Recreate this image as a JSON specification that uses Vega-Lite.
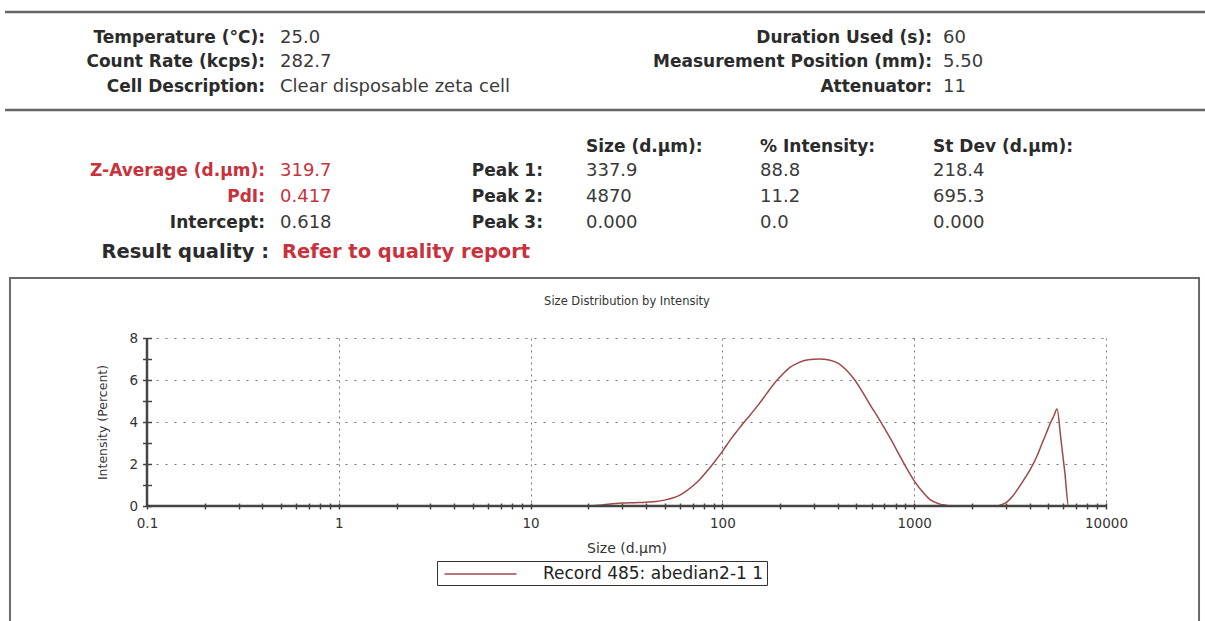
{
  "$schema": "https://vega.github.io/schema/vega-lite/v6.json",
  "width": 959,
  "height": 168,
  "autosize": {"type": "none"},
  "padding": {"left": 147, "top": 338, "right": 99, "bottom": 115},
  "background": "white",
  "config": {"view": {"stroke": null}, "font": "DejaVu Sans"},
  "datasets": {
    "curve": [
      {"size": 0.1, "intensity": 0}, {"size": 1, "intensity": 0}, {"size": 10, "intensity": 0},
      {"size": 20, "intensity": 0}, {"size": 23, "intensity": 0.04}, {"size": 26, "intensity": 0.1},
      {"size": 30, "intensity": 0.14}, {"size": 35, "intensity": 0.16}, {"size": 40, "intensity": 0.18},
      {"size": 45, "intensity": 0.21}, {"size": 50, "intensity": 0.28}, {"size": 55, "intensity": 0.38},
      {"size": 60, "intensity": 0.52}, {"size": 65, "intensity": 0.72}, {"size": 70, "intensity": 0.95},
      {"size": 76, "intensity": 1.25}, {"size": 83, "intensity": 1.65}, {"size": 90, "intensity": 2.05},
      {"size": 100, "intensity": 2.6}, {"size": 110, "intensity": 3.15}, {"size": 120, "intensity": 3.6},
      {"size": 130, "intensity": 4.0}, {"size": 140, "intensity": 4.35}, {"size": 155, "intensity": 4.85},
      {"size": 170, "intensity": 5.35}, {"size": 185, "intensity": 5.8}, {"size": 200, "intensity": 6.15},
      {"size": 225, "intensity": 6.6}, {"size": 250, "intensity": 6.83}, {"size": 280, "intensity": 6.96},
      {"size": 320, "intensity": 7.0}, {"size": 360, "intensity": 6.95}, {"size": 400, "intensity": 6.8},
      {"size": 440, "intensity": 6.5}, {"size": 490, "intensity": 6.0}, {"size": 540, "intensity": 5.4},
      {"size": 600, "intensity": 4.7}, {"size": 650, "intensity": 4.2}, {"size": 710, "intensity": 3.6},
      {"size": 780, "intensity": 2.95}, {"size": 840, "intensity": 2.4}, {"size": 900, "intensity": 1.9},
      {"size": 1000, "intensity": 1.2}, {"size": 1100, "intensity": 0.7}, {"size": 1210, "intensity": 0.3},
      {"size": 1350, "intensity": 0.1}, {"size": 1480, "intensity": 0.03}, {"size": 1650, "intensity": 0},
      {"size": 2700, "intensity": 0}, {"size": 2850, "intensity": 0.06}, {"size": 3050, "intensity": 0.2},
      {"size": 3250, "intensity": 0.45}, {"size": 3450, "intensity": 0.78}, {"size": 3700, "intensity": 1.2},
      {"size": 4000, "intensity": 1.7}, {"size": 4200, "intensity": 2.05}, {"size": 4400, "intensity": 2.45},
      {"size": 4650, "intensity": 3.0}, {"size": 4900, "intensity": 3.5}, {"size": 5130, "intensity": 3.95},
      {"size": 5350, "intensity": 4.3}, {"size": 5560, "intensity": 4.62}, {"size": 5800, "intensity": 3.3},
      {"size": 6100, "intensity": 1.6}, {"size": 6380, "intensity": 0}, {"size": 10000, "intensity": 0}
    ],
    "header": [
      {"text": "Temperature (°C):", "column": 1, "line": 1, "kind": "key", "flag": false},
      {"text": "25.0", "column": 2, "line": 1, "kind": "value", "flag": false},
      {"text": "Duration Used (s):", "column": 7, "line": 1, "kind": "key", "flag": false},
      {"text": "60", "column": 8, "line": 1, "kind": "value", "flag": false},
      {"text": "Count Rate (kcps):", "column": 1, "line": 2, "kind": "key", "flag": false},
      {"text": "282.7", "column": 2, "line": 2, "kind": "value", "flag": false},
      {"text": "Measurement Position (mm):", "column": 7, "line": 2, "kind": "key", "flag": false},
      {"text": "5.50", "column": 8, "line": 2, "kind": "value", "flag": false},
      {"text": "Cell Description:", "column": 1, "line": 3, "kind": "key", "flag": false},
      {"text": "Clear disposable zeta cell", "column": 2, "line": 3, "kind": "value", "flag": false},
      {"text": "Attenuator:", "column": 7, "line": 3, "kind": "key", "flag": false},
      {"text": "11", "column": 8, "line": 3, "kind": "value", "flag": false},
      {"text": "Size (d.µm):", "column": 4, "line": 5, "kind": "heading", "flag": false},
      {"text": "% Intensity:", "column": 5, "line": 5, "kind": "heading", "flag": false},
      {"text": "St Dev (d.µm):", "column": 6, "line": 5, "kind": "heading", "flag": false},
      {"text": "Z-Average (d.µm):", "column": 1, "line": 6, "kind": "key", "flag": true},
      {"text": "319.7", "column": 2, "line": 6, "kind": "value", "flag": true},
      {"text": "Peak 1:", "column": 3, "line": 6, "kind": "key", "flag": false},
      {"text": "337.9", "column": 4, "line": 6, "kind": "value", "flag": false},
      {"text": "88.8", "column": 5, "line": 6, "kind": "value", "flag": false},
      {"text": "218.4", "column": 6, "line": 6, "kind": "value", "flag": false},
      {"text": "PdI:", "column": 1, "line": 7, "kind": "key", "flag": true},
      {"text": "0.417", "column": 2, "line": 7, "kind": "value", "flag": true},
      {"text": "Peak 2:", "column": 3, "line": 7, "kind": "key", "flag": false},
      {"text": "4870", "column": 4, "line": 7, "kind": "value", "flag": false},
      {"text": "11.2", "column": 5, "line": 7, "kind": "value", "flag": false},
      {"text": "695.3", "column": 6, "line": 7, "kind": "value", "flag": false},
      {"text": "Intercept:", "column": 1, "line": 8, "kind": "key", "flag": false},
      {"text": "0.618", "column": 2, "line": 8, "kind": "value", "flag": false},
      {"text": "Peak 3:", "column": 3, "line": 8, "kind": "key", "flag": false},
      {"text": "0.000", "column": 4, "line": 8, "kind": "value", "flag": false},
      {"text": "0.0", "column": 5, "line": 8, "kind": "value", "flag": false},
      {"text": "0.000", "column": 6, "line": 8, "kind": "value", "flag": false},
      {"text": "Result quality :", "column": 1, "line": 9, "kind": "qkey", "flag": false},
      {"text": "Refer to quality report", "column": 2, "line": 9, "kind": "qvalue", "flag": true}
    ]
  },
  "layer": [
    {
      "layer": [
        {
          "data": {"values": [{}]},
          "mark": {"type": "rect", "filled": false, "stroke": "#6a6a6a", "strokeWidth": 2},
          "encoding": {
            "x": {"datum": 0.0193, "type": "quantitative",
              "scale": {"type": "log", "domain": [0.1, 10000], "nice": false},
              "axis": {"orient": "top", "title": "Size Distribution by Intensity", "labels": false, "ticks": false,
                "domain": false, "grid": false, "titlePadding": 32, "titleFontSize": 11.5,
                "titleFontWeight": "normal", "titleColor": "#333", "titleFont": "DejaVu Sans"}},
            "x2": {"datum": 30550},
            "y": {"datum": 10.857, "type": "quantitative", "scale": {"domain": [0, 8], "nice": false, "zero": false},
              "axis": {"title": "Intensity (Percent)", "values": [0,1,2,3,4,5,6,7,8],
                "labelExpr": "datum.value % 2 === 0 ? datum.label : ''",
                "offset": -4.5, "tickSize": 9, "tickColor": "#444", "tickWidth": 1.5, "domain": false,
                "grid": true, "gridColor": "#777", "gridDash": [2, 7], "gridWidth": 1,
                "gridOpacity": {"condition": {"test": "datum.value % 2 === 0 && datum.value > 0", "value": 1}, "value": 0},
                "labelFontSize": 13.5, "labelColor": "#333", "labelPadding": 5,
                "titleFontSize": 12.5, "titleFontWeight": "normal", "titleColor": "#333", "titlePadding": 19}},
            "y2": {"datum": -5.7}
          }
        },
        {
          "data": {"name": "curve"},
          "mark": {"type": "line", "strokeWidth": 1.5, "interpolate": "monotone"},
          "encoding": {
            "x": {"field": "size", "type": "quantitative",
              "scale": {"type": "log", "domain": [0.1, 10000], "nice": false},
              "axis": {"orient": "bottom", "title": "Size (d.µm)",
                "values": [0.1,0.2,0.3,0.4,0.5,0.6,0.7,0.8,0.9,1,2,3,4,5,6,7,8,9,10,20,30,40,50,60,70,80,90,100,200,300,400,500,600,700,800,900,1000,2000,3000,4000,5000,6000,7000,8000,9000,10000],
                "labelExpr": "indexof([0.1,1,10,100,1000,10000], datum.value) >= 0 ? format(datum.value, '~g') : ''",
                "labelOverlap": false, "labelFlush": false, "labelFontSize": 13.5, "labelColor": "#333", "labelPadding": 7,
                "tickSize": 6, "tickColor": "#444", "tickWidth": 1.5, "offset": -3, "domain": false,
                "grid": true, "gridColor": "#777", "gridDash": [2, 4], "gridWidth": 1,
                "gridOpacity": {"condition": {"test": "indexof([1,10,100,1000,10000], datum.value) >= 0", "value": 1}, "value": 0},
                "titleFontSize": 14, "titleFontWeight": "normal", "titleColor": "#333", "titlePadding": 12}},
            "y": {"field": "intensity", "type": "quantitative",
              "scale": {"domain": [0, 8], "nice": false, "zero": false},
              "axis": {"title": "Intensity (Percent)", "values": [0,1,2,3,4,5,6,7,8],
                "labelExpr": "datum.value % 2 === 0 ? datum.label : ''",
                "offset": -4.5, "tickSize": 9, "tickColor": "#444", "tickWidth": 1.5, "domain": false,
                "grid": true, "gridColor": "#777", "gridDash": [2, 7], "gridWidth": 1,
                "gridOpacity": {"condition": {"test": "datum.value % 2 === 0 && datum.value > 0", "value": 1}, "value": 0},
                "labelFontSize": 13.5, "labelColor": "#333", "labelPadding": 5,
                "titleFontSize": 12.5, "titleFontWeight": "normal", "titleColor": "#333", "titlePadding": 19}},
            "color": {"datum": "Record 485: abedian2-1 1", "type": "nominal",
              "scale": {"range": ["#a04848"]},
              "legend": {"orient": "none", "legendX": 290, "legendY": 223, "title": null,
                "strokeColor": "#333", "padding": 3, "symbolType": "M-4,0L4,0", "symbolSize": 324,
                "symbolStrokeWidth": 1.5, "symbolOffset": 30.5, "labelOffset": 52.5, "labelLimit": 0,
                "labelFontSize": 17, "labelColor": "#222", "labelFont": "DejaVu Sans"}}
          }
        },
        {
          "data": {"values": [{}]},
          "mark": {"type": "rule", "color": "#444", "strokeWidth": 2.5},
          "encoding": {"y": {"datum": 0, "type": "quantitative",
              "axis": {"title": "Intensity (Percent)", "values": [0,1,2,3,4,5,6,7,8],
                "labelExpr": "datum.value % 2 === 0 ? datum.label : ''",
                "offset": -4.5, "tickSize": 9, "tickColor": "#444", "tickWidth": 1.5, "domain": false,
                "grid": true, "gridColor": "#777", "gridDash": [2, 7], "gridWidth": 1,
                "gridOpacity": {"condition": {"test": "datum.value % 2 === 0 && datum.value > 0", "value": 1}, "value": 0},
                "labelFontSize": 13.5, "labelColor": "#333", "labelPadding": 5,
                "titleFontSize": 12.5, "titleFontWeight": "normal", "titleColor": "#333", "titlePadding": 19}}}
        },
        {
          "data": {"values": [{}]},
          "mark": {"type": "rule", "color": "#444", "strokeWidth": 2.5},
          "encoding": {"x": {"datum": 0.1, "type": "quantitative", "axis": null}}
        }
      ],
      "resolve": {"axis": {"x": "independent"}}
    },
    {
      "data": {"name": "header"},
      "layer": [
        {
          "data": {"values": [{"line": 0}, {"line": 4}]},
          "mark": {"type": "rule", "color": "#666", "strokeWidth": 2.5},
          "encoding": {
            "x": {"datum": 0, "type": "quantitative", "scale": {"domain": [0,1,2,3,4,5,6,7,8,9], "range": [-142,118,133,396,439,613,786,785,796,1058], "zero": false, "nice": false}, "axis": null},
            "x2": {"datum": 9},
            "y": {"field": "line", "type": "quantitative", "scale": {"domain": [0,1,2,3,4,5,6,7,8,9], "range": [-326,-300.5,-276,-251.5,-228,-191,-167,-141,-115,-86], "zero": false, "nice": false}, "axis": null}
          }
        },
        {
          "transform": [{"filter": "datum.kind === 'key'"}],
          "mark": {"type": "text", "align": "right", "baseline": "middle", "fontWeight": "bold", "fontSize": 17, "font": "DejaVu Sans"},
          "encoding": {
            "x": {"field": "column", "type": "quantitative", "scale": {"domain": [0,1,2,3,4,5,6,7,8,9], "range": [-142,118,133,396,439,613,786,785,796,1058], "zero": false, "nice": false}, "axis": null},
            "y": {"field": "line", "type": "quantitative", "scale": {"domain": [0,1,2,3,4,5,6,7,8,9], "range": [-326,-300.5,-276,-251.5,-228,-191,-167,-141,-115,-86], "zero": false, "nice": false}, "axis": null},
            "text": {"field": "text"},
            "color": {"condition": {"test": "datum.flag", "value": "#c8323c"}, "value": "#2b2b2b"}
          }
        },
        {
          "transform": [{"filter": "datum.kind === 'value'"}],
          "mark": {"type": "text", "align": "left", "baseline": "middle", "fontSize": 18, "font": "DejaVu Sans"},
          "encoding": {
            "x": {"field": "column", "type": "quantitative", "scale": {"domain": [0,1,2,3,4,5,6,7,8,9], "range": [-142,118,133,396,439,613,786,785,796,1058], "zero": false, "nice": false}, "axis": null},
            "y": {"field": "line", "type": "quantitative", "scale": {"domain": [0,1,2,3,4,5,6,7,8,9], "range": [-326,-300.5,-276,-251.5,-228,-191,-167,-141,-115,-86], "zero": false, "nice": false}, "axis": null},
            "text": {"field": "text"},
            "color": {"condition": {"test": "datum.flag", "value": "#c8323c"}, "value": "#3a3a3a"}
          }
        },
        {
          "transform": [{"filter": "datum.kind === 'heading'"}],
          "mark": {"type": "text", "align": "left", "baseline": "middle", "fontWeight": "bold", "fontSize": 17, "font": "DejaVu Sans", "color": "#2b2b2b"},
          "encoding": {
            "x": {"field": "column", "type": "quantitative", "scale": {"domain": [0,1,2,3,4,5,6,7,8,9], "range": [-142,118,133,396,439,613,786,785,796,1058], "zero": false, "nice": false}, "axis": null},
            "y": {"field": "line", "type": "quantitative", "scale": {"domain": [0,1,2,3,4,5,6,7,8,9], "range": [-326,-300.5,-276,-251.5,-228,-191,-167,-141,-115,-86], "zero": false, "nice": false}, "axis": null},
            "text": {"field": "text"}
          }
        },
        {
          "transform": [{"filter": "datum.kind === 'qkey'"}],
          "mark": {"type": "text", "align": "right", "baseline": "middle", "fontWeight": "bold", "fontSize": 19.5, "font": "DejaVu Sans", "dx": 4, "color": "#2b2b2b"},
          "encoding": {
            "x": {"field": "column", "type": "quantitative", "scale": {"domain": [0,1,2,3,4,5,6,7,8,9], "range": [-142,118,133,396,439,613,786,785,796,1058], "zero": false, "nice": false}, "axis": null},
            "y": {"field": "line", "type": "quantitative", "scale": {"domain": [0,1,2,3,4,5,6,7,8,9], "range": [-326,-300.5,-276,-251.5,-228,-191,-167,-141,-115,-86], "zero": false, "nice": false}, "axis": null},
            "text": {"field": "text"}
          }
        },
        {
          "transform": [{"filter": "datum.kind === 'qvalue'"}],
          "mark": {"type": "text", "align": "left", "baseline": "middle", "fontWeight": "bold", "fontSize": 19.5, "font": "DejaVu Sans", "dx": 2, "color": "#c8323c"},
          "encoding": {
            "x": {"field": "column", "type": "quantitative", "scale": {"domain": [0,1,2,3,4,5,6,7,8,9], "range": [-142,118,133,396,439,613,786,785,796,1058], "zero": false, "nice": false}, "axis": null},
            "y": {"field": "line", "type": "quantitative", "scale": {"domain": [0,1,2,3,4,5,6,7,8,9], "range": [-326,-300.5,-276,-251.5,-228,-191,-167,-141,-115,-86], "zero": false, "nice": false}, "axis": null},
            "text": {"field": "text"}
          }
        }
      ]
    }
  ],
  "resolve": {"scale": {"x": "independent", "y": "independent", "color": "independent"}}
}
